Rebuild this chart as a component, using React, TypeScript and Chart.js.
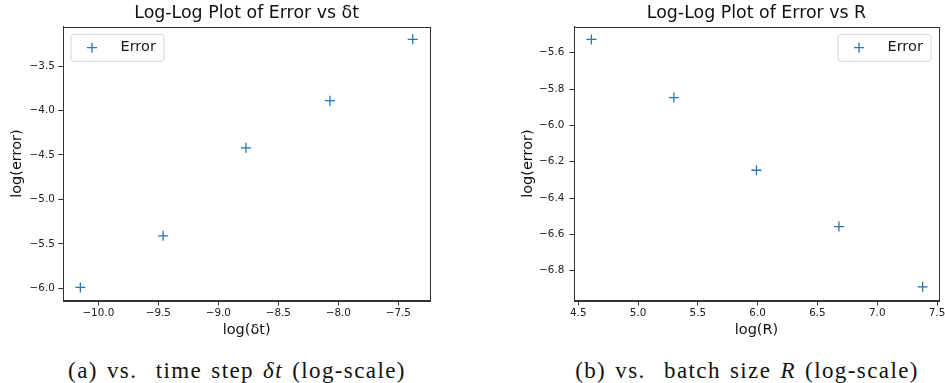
import React, { useEffect, useRef } from "react";
import { Chart, registerables } from "chart.js";

Chart.register(...registerables);

// ---------- Data ----------
const LOG_DT = [-10.15, -9.46, -8.77, -8.07, -7.38];
const LOG_ERR_DT = [-5.99, -5.41, -4.42, -3.89, -3.2];

const LOG_R = [4.61, 5.3, 5.99, 6.68, 7.38];
const LOG_ERR_R = [-5.527, -5.847, -6.247, -6.557, -6.889];

const X_TICKS_A = [-10.0, -9.5, -9.0, -8.5, -8.0, -7.5];
const Y_TICKS_A = [-3.5, -4.0, -4.5, -5.0, -5.5, -6.0];
const X_TICKS_B = [4.5, 5.0, 5.5, 6.0, 6.5, 7.0, 7.5];
const Y_TICKS_B = [-5.6, -5.8, -6.0, -6.2, -6.4, -6.6, -6.8];

const BLUE = "#1f77b4";
const SANS = "'DejaVu Sans', sans-serif";

const fmt = (v: number) => (v < 0 ? "\u2212" : "") + Math.abs(v).toFixed(1);

const legendPlugin = {
  id: "mplLegend",
  afterDraw(chart: any, _args: any, opts: any) {
    const { ctx, chartArea } = chart;
    const w = 93;
    const h = 27;
    const x = opts.side === "right" ? chartArea.right - 7.7 - w : chartArea.left + 7.7;
    const y = chartArea.top + 7.6;
    ctx.save();
    ctx.beginPath();
    const r = 3;
    ctx.moveTo(x + r, y);
    ctx.lineTo(x + w - r, y);
    ctx.quadraticCurveTo(x + w, y, x + w, y + r);
    ctx.lineTo(x + w, y + h - r);
    ctx.quadraticCurveTo(x + w, y + h, x + w - r, y + h);
    ctx.lineTo(x + r, y + h);
    ctx.quadraticCurveTo(x, y + h, x, y + h - r);
    ctx.lineTo(x, y + r);
    ctx.quadraticCurveTo(x, y, x + r, y);
    ctx.closePath();
    ctx.fillStyle = "rgba(255,255,255,0.8)";
    ctx.fill();
    ctx.strokeStyle = "#d6d6d6";
    ctx.lineWidth = 1;
    ctx.stroke();
    // marker
    const mx = x + 21;
    const my = y + 13.4;
    ctx.strokeStyle = BLUE;
    ctx.lineWidth = 1.3;
    ctx.beginPath();
    ctx.moveTo(mx - 5, my);
    ctx.lineTo(mx + 5, my);
    ctx.moveTo(mx, my - 5);
    ctx.lineTo(mx, my + 5);
    ctx.stroke();
    ctx.fillStyle = "#1a1a1a";
    ctx.font = `14.5px ${SANS}`;
    ctx.textAlign = "left";
    ctx.textBaseline = "middle";
    ctx.fillText(chart.data.datasets[0].label, x + 49.5, my);
    ctx.restore();
  },
};

const framePlugin = {
  id: "frame",
  afterDatasetsDraw(chart: any) {
    const { ctx, chartArea } = chart;
    ctx.save();
    ctx.strokeStyle = "#333";
    ctx.lineWidth = 1;
    ctx.strokeRect(
      Math.round(chartArea.left) + 0.5,
      Math.round(chartArea.top) + 0.5,
      Math.round(chartArea.right) - Math.round(chartArea.left),
      Math.round(chartArea.bottom) - Math.round(chartArea.top)
    );
    ctx.restore();
  },
};

type Cfg = {
  title: string;
  xLabel: string;
  xs: number[];
  ys: number[];
  xTicks: number[];
  yTicks: number[];
  xMin: number;
  xMax: number;
  yMin: number;
  yMax: number;
  yAxisWidth: number;
  rightPad: number;
  yTitlePad: number;
  yTickPad: number;
  legendSide: "left" | "right";
};

const CANVAS_H = 345;
const AREA_BOTTOM = 300.5;

function ErrChart({ cfg }: { cfg: Cfg }) {
  const ref = useRef<HTMLCanvasElement | null>(null);
  useEffect(() => {
    if (!ref.current) return;
    const chart = new Chart(ref.current, {
      type: "scatter",
      data: {
        datasets: [
          {
            label: "Error",
            data: cfg.xs.map((x, i) => ({ x, y: cfg.ys[i] })),
            pointStyle: "cross",
            pointRadius: 5,
            pointHoverRadius: 5,
            pointBorderWidth: 1.3,
            borderColor: BLUE,
            backgroundColor: BLUE,
            showLine: false,
          },
        ],
      },
      options: {
        animation: false,
        responsive: false,
        events: [],
        layout: { padding: { top: 0, right: cfg.rightPad, bottom: 0, left: 0 } },
        plugins: {
          legend: { display: false },
          tooltip: { enabled: false },
          title: {
            display: true,
            text: cfg.title,
            fullSize: false,
            color: "#111",
            font: { family: SANS, size: 17.4, weight: "normal" },
            padding: { top: 3, bottom: 26.7 - 3 - 17.4 * 1.2 },
          },
          mplLegend: { side: cfg.legendSide },
        } as any,
        scales: {
          x: {
            type: "linear",
            min: cfg.xMin,
            max: cfg.xMax,
            afterBuildTicks: (s: any) => {
              s.ticks = cfg.xTicks.map((v) => ({ value: v }));
            },
            afterFit: (s: any) => {
              s.height = CANVAS_H - AREA_BOTTOM;
              s.paddingLeft = 0;
              s.paddingRight = 0;
            },
            ticks: {
              callback: (v: any) => fmt(Number(v)),
              color: "#222",
              font: { family: SANS, size: 10.4 },
              padding: 2,
              maxRotation: 0,
              autoSkip: false,
            },
            grid: {
              display: true,
              drawOnChartArea: false,
              drawTicks: true,
              tickLength: 5,
              tickColor: "#333",
            },
            border: { display: true, color: "#333", width: 1 },
            title: {
              display: true,
              text: cfg.xLabel,
              color: "#111",
              font: { family: SANS, size: 14.5 },
              padding: { top: 0, bottom: 6.3 },
            },
          },
          y: {
            type: "linear",
            min: cfg.yMin,
            max: cfg.yMax,
            afterBuildTicks: (s: any) => {
              s.ticks = cfg.yTicks.map((v) => ({ value: v }));
            },
            afterFit: (s: any) => {
              s.width = cfg.yAxisWidth;
              s.paddingTop = 0;
              s.paddingBottom = 0;
            },
            ticks: {
              callback: (v: any) => fmt(Number(v)),
              color: "#222",
              font: { family: SANS, size: 10.4 },
              padding: cfg.yTickPad,
              autoSkip: false,
            },
            grid: {
              display: true,
              drawOnChartArea: false,
              drawTicks: true,
              tickLength: 5,
              tickColor: "#333",
            },
            border: { display: true, color: "#333", width: 1 },
            title: {
              display: true,
              text: "log(error)",
              color: "#111",
              font: { family: SANS, size: 14.5 },
              padding: { top: cfg.yTitlePad, bottom: 0 },
            },
          },
        },
      } as any,
      plugins: [framePlugin, legendPlugin],
    });
    return () => chart.destroy();
  }, [cfg]);
  return <canvas ref={ref} width={470} height={CANVAS_H} style={{ width: 470, height: CANVAS_H, display: "block" }} />;
}

const CFG_A: Cfg = {
  title: "Log-Log Plot of Error vs \u03b4t",
  xLabel: "log(\u03b4t)",
  xs: LOG_DT,
  ys: LOG_ERR_DT,
  xTicks: X_TICKS_A,
  yTicks: Y_TICKS_A,
  xMin: -10.292,
  xMax: -7.236,
  yMin: -6.137,
  yMax: -3.058,
  yAxisWidth: 63.3,
  rightPad: 40,
  yTitlePad: 17.3 - 8.7,
  yTickPad: 3.5,
  legendSide: "left",
};

const CFG_B: Cfg = {
  title: "Log-Log Plot of Error vs R",
  xLabel: "log(R)",
  xs: LOG_R,
  ys: LOG_ERR_R,
  xTicks: X_TICKS_B,
  yTicks: Y_TICKS_B,
  xMin: 4.467,
  xMax: 7.514,
  yMin: -6.964,
  yMax: -5.457,
  yAxisWidth: 99.3,
  rightPad: 3.3,
  yTitlePad: 53.3 - 8.7,
  yTickPad: 5,
  legendSide: "right",
};

const capStyle: React.CSSProperties = {
  position: "absolute",
  top: 357,
  width: 470,
  textAlign: "center",
  fontFamily: "'Liberation Serif', 'DejaVu Serif', serif",
  fontSize: 23,
  letterSpacing: 1.4,
  wordSpacing: 2,
  lineHeight: "28px",
  color: "#111",
  whiteSpace: "nowrap",
};

export default function App() {
  return (
    <div
      style={{
        position: "absolute",
        left: 0,
        top: 0,
        width: 945,
        height: 383,
        background: "#fff",
        overflow: "hidden",
      }}
    >
      <div style={{ position: "absolute", left: 0, top: 0 }}>
        <ErrChart cfg={CFG_A} />
      </div>
      <div style={{ position: "absolute", left: 475, top: 0 }}>
        <ErrChart cfg={CFG_B} />
      </div>
      <div style={{ ...capStyle, left: 237 - 235 }}>
        (a) vs.&nbsp; time step <i>δt</i> (log-scale)
      </div>
      <div style={{ ...capStyle, left: 747 - 235 }}>
        (b) vs.&nbsp; batch size <i>R</i> (log-scale)
      </div>
    </div>
  );
}
